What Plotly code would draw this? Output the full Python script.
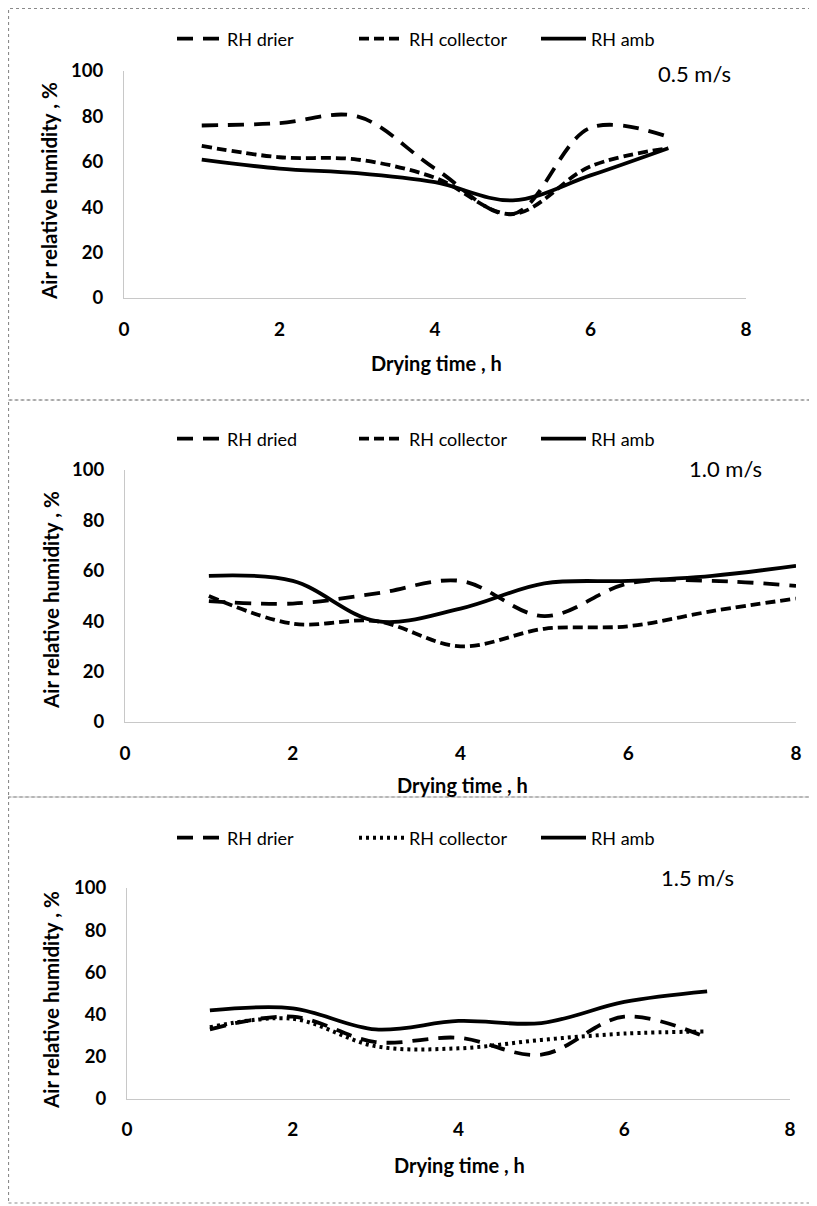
import plotly.graph_objects as go

# ---- data ----
hours_a = [1, 2, 3, 4, 5, 6, 7]
rh_drier_05 = [76, 77, 80, 57, 37, 75, 71]
rh_collector_05 = [67, 62, 61, 53, 37, 58, 66]
rh_amb_05 = [61, 57, 55, 51, 43, 54, 66]

hours_b = [1, 2, 3, 4, 5, 6, 7, 8]
rh_dried_10 = [48, 47, 51, 56, 42, 55, 56, 54]
rh_collector_10 = [50, 39, 40, 30, 37, 38, 44, 49]
rh_amb_10 = [58, 56, 40, 45, 55, 56, 58, 62]

hours_c = [1, 2, 3, 4, 5, 6, 7]
rh_drier_15 = [33, 39, 27, 29, 21, 39, 29]
rh_collector_15 = [34, 38, 25, 24, 28, 31, 32]
rh_amb_15 = [42, 43, 33, 37, 36, 46, 51]

x_ticks = [0, 2, 4, 6, 8]
y_ticks = [0, 20, 40, 60, 80, 100]
speed_labels = ["0.5 m/s", "1.0 m/s", "1.5 m/s"]

# the page body adds an 8px offset; size the figure to fill the rest of the window
OFF = 8
W, H = 817 - OFF, 1206 - OFF
FONT = "Lato"

def fx(px):
    return (px - OFF) / W

def fy(py):
    return (H - (py - OFF)) / H

# panel pixel geometry in window coords: (x at 0, x at 8, y at 0, y at 100)
panels = [
    (124, 746, 298, 71),
    (125, 796, 722, 470),
    (127, 790, 1099, 888),
]

fig = go.Figure()

LONG = "16px,10px"
SHORT = "10px,5px"
DOT = "3px,4px"

series = [
    (hours_a, [("RH drier", rh_drier_05, LONG), ("RH collector", rh_collector_05, SHORT), ("RH amb", rh_amb_05, "solid")]),
    (hours_b, [("RH dried", rh_dried_10, LONG), ("RH collector", rh_collector_10, SHORT), ("RH amb", rh_amb_10, "solid")]),
    (hours_c, [("RH drier", rh_drier_15, LONG), ("RH collector", rh_collector_15, DOT), ("RH amb", rh_amb_15, "solid")]),
]

for i, (hrs, lines) in enumerate(series):
    suffix = "" if i == 0 else str(i + 1)
    for name, vals, dash in lines:
        w = 4 if dash == DOT else 3.8
        fig.add_trace(go.Scatter(
            x=hrs, y=vals, name=name, mode="lines",
            line=dict(color="black", width=w, dash=dash, shape="spline", smoothing=1.0),
            xaxis="x" + suffix, yaxis="y" + suffix,
            legend="legend" + suffix,
        ))

layout = dict(
    width=W, height=H,
    margin=dict(l=0, r=0, t=0, b=0, autoexpand=False),
    paper_bgcolor="white", plot_bgcolor="white",
    font=dict(family=FONT, color="black"),
    showlegend=True,
)

legend_y = [39, 439, 838]
annotations = []
shapes = []
xtitle_pos = [(436, 363), (462, 785), (460, 1165)]
ytitle_pos = [(49, 191), (51, 600), (51, 1000)]
speed_pos = [(694, 73), (725, 468), (697, 877)]
xtick_len = [14, 14, 13]

for i, (x0, x8, y0, y100) in enumerate(panels):
    suffix = "" if i == 0 else str(i + 1)
    layout["xaxis" + suffix] = dict(
        domain=[fx(x0), fx(x8)], range=[0, 8], anchor="y" + suffix,
        tickvals=x_ticks, ticktext=[str(v) for v in x_ticks],
        tickfont=dict(family=FONT, size=19, color="black", weight="bold"),
        showgrid=False, zeroline=False, showline=True, linecolor="#c8c8c8", linewidth=1,
        ticks="outside", ticklen=xtick_len[i], tickcolor="rgba(0,0,0,0)",
        automargin=False,
    )
    layout["yaxis" + suffix] = dict(
        domain=[fy(y0), fy(y100)], range=[0, 100], anchor="x" + suffix,
        tickvals=y_ticks, ticktext=[str(v) for v in y_ticks],
        tickfont=dict(family=FONT, size=18.5, color="black", weight="bold"),
        showgrid=False, zeroline=False, showline=True, linecolor="#c8c8c8", linewidth=1,
        ticks="outside", ticklen=16, tickcolor="rgba(0,0,0,0)",
        automargin=False,
    )
    layout["legend" + suffix] = dict(
        orientation="h", x=fx(172), xanchor="left", y=fy(legend_y[i]), yanchor="middle",
        font=dict(family=FONT, size=18, color="black"),
        bgcolor="rgba(0,0,0,0)", entrywidth=122, entrywidthmode="pixels",
        itemwidth=45,
    )
    tx, ty = xtitle_pos[i]
    annotations.append(dict(
        text="Drying time , h", x=fx(tx), y=fy(ty), xref="paper", yref="paper",
        showarrow=False, font=dict(family=FONT, size=20, color="black", weight="bold"),
        xanchor="center", yanchor="middle",
    ))
    ax, ay = ytitle_pos[i]
    annotations.append(dict(
        text="Air relative humidity , %", x=fx(ax), y=fy(ay), xref="paper", yref="paper",
        showarrow=False, textangle=-90,
        font=dict(family=FONT, size=20.5, color="black", weight="bold"),
        xanchor="center", yanchor="middle",
    ))
    sx, sy = speed_pos[i]
    annotations.append(dict(
        text=speed_labels[i], x=fx(sx), y=fy(sy), xref="paper", yref="paper",
        showarrow=False, font=dict(family=FONT, size=22, color="black"),
        xanchor="center", yanchor="middle",
    ))

# panel frames
for (top, bot) in [(3, 400), (400, 797), (797, 1203)]:
    shapes.append(dict(
        type="rect", xref="paper", yref="paper",
        x0=fx(8.5), x1=fx(814), y0=fy(bot), y1=fy(top if top > 8 else 8.5),
        line=dict(color="#8a8a8a", width=1.2, dash="dot"), fillcolor="rgba(0,0,0,0)",
    ))

layout["annotations"] = annotations
layout["shapes"] = shapes
fig.update_layout(**layout)

fig.write_html("out.html")
